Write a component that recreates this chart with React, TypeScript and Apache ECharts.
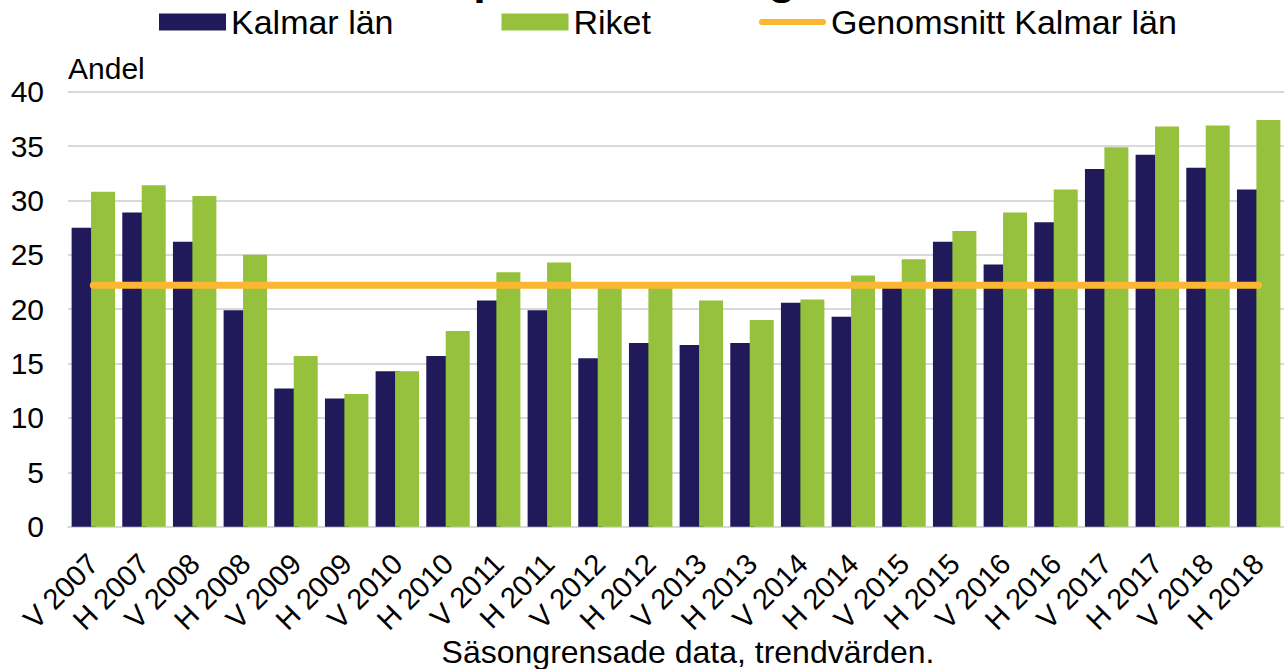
import React, { useEffect, useRef } from "react";
import * as echarts from "echarts";

const categories = [
  "V 2007", "H 2007", "V 2008", "H 2008", "V 2009", "H 2009", "V 2010", "H 2010",
  "V 2011", "H 2011", "V 2012", "H 2012", "V 2013", "H 2013", "V 2014", "H 2014",
  "V 2015", "H 2015", "V 2016", "H 2016", "V 2017", "H 2017", "V 2018", "H 2018",
];

const kalmar = [
  27.5, 28.9, 26.2, 19.9, 12.7, 11.8, 14.3, 15.7,
  20.8, 19.9, 15.5, 16.9, 16.7, 16.9, 20.6, 19.3,
  22.3, 26.2, 24.1, 28.0, 32.9, 34.2, 33.0, 31.0,
];

const riket = [
  30.8, 31.4, 30.4, 25.0, 15.7, 12.2, 14.3, 18.0,
  23.4, 24.3, 22.3, 22.2, 20.8, 19.0, 20.9, 23.1,
  24.6, 27.2, 28.9, 31.0, 34.9, 36.8, 36.9, 37.4,
];

const averageKalmar = 22.2;
const averageLine = categories.map(() => averageKalmar);

const yTicks = { min: 0, max: 40, interval: 5 };

const seriesNames = ["Kalmar län", "Riket", "Genomsnitt Kalmar län"];
const titleText = "privata arbetsgivare";
const xAxisTitle = "Säsongrensade data, trendvärden.";
const yAxisTitle = "Andel";

const FONT = "'Liberation Sans', Arial, sans-serif";

export default function App() {
  const ref = useRef<HTMLDivElement>(null);
  useEffect(() => {
    if (!ref.current) return;
    const chart = echarts.init(ref.current, undefined, { renderer: "svg" });
    chart.setOption({
      animation: false,
      backgroundColor: "#ffffff",
      textStyle: { fontFamily: FONT },
      graphic: [
        {
          type: "text",
          x: 687,
          y: -22,
          style: {
            text: titleText,
            font: `bold 45px ${FONT}`,
            fill: "#000000",
            align: "center",
            verticalAlign: "middle",
          },
        },
        {
          type: "text",
          x: 688,
          y: 652,
          style: {
            text: xAxisTitle,
            font: `32px ${FONT}`,
            fill: "#000000",
            align: "center",
            verticalAlign: "middle",
          },
        },
      ],
      legend: {
        left: 154,
        top: 0,
        itemWidth: 67,
        itemHeight: 17,
        itemGap: 108,
        textStyle: { fontSize: 34, color: "#000000", fontFamily: FONT },
        data: [
          { name: seriesNames[0], icon: "rect" },
          { name: seriesNames[1], icon: "rect" },
          {
            name: seriesNames[2],
            icon: "path://M3,0H64A3,3 0 0 1 64,6H3A3,3 0 0 1 3,0Z",
          },
        ],
      },
      grid: { left: 68, top: 91.7, width: 1219, bottom: 142.3, containLabel: false },
      xAxis: {
        type: "category",
        data: categories,
        axisLine: { show: true, lineStyle: { color: "#d9d9d9", width: 2 } },
        axisTick: { show: false },
        axisLabel: {
          rotate: 45,
          interval: 0,
          margin: 32,
          fontSize: 29,
          color: "#000000",
          fontFamily: FONT,
        },
      },
      yAxis: {
        type: "value",
        min: yTicks.min,
        max: yTicks.max,
        interval: yTicks.interval,
        name: yAxisTitle,
        nameLocation: "end",
        nameGap: 8,
        nameTextStyle: { fontSize: 30, color: "#000000", align: "left", fontFamily: FONT },
        axisLine: { show: false },
        axisTick: { show: false },
        axisLabel: { fontSize: 30, color: "#000000", margin: 24, fontFamily: FONT },
        splitLine: { lineStyle: { color: "#d9d9d9", width: 2 } },
      },
      series: [
        {
          name: seriesNames[0],
          type: "bar",
          data: kalmar,
          barWidth: 24,
          barGap: "-19%",
          itemStyle: { color: "#201A5A" },
        },
        {
          name: seriesNames[1],
          type: "bar",
          data: riket,
          barWidth: 24,
          barGap: "-19%",
          itemStyle: { color: "#95C13D" },
        },
        {
          name: seriesNames[2],
          type: "line",
          data: averageLine,
          symbol: "none",
          z: 5,
          lineStyle: { color: "#FBB731", width: 7, cap: "round" },
          itemStyle: { color: "#FBB731" },
        },
      ],
    });
    return () => chart.dispose();
  }, []);
  return (
    <div
      ref={ref}
      style={{ position: "fixed", left: 0, top: 0, width: 1284, height: 669 }}
    />
  );
}
